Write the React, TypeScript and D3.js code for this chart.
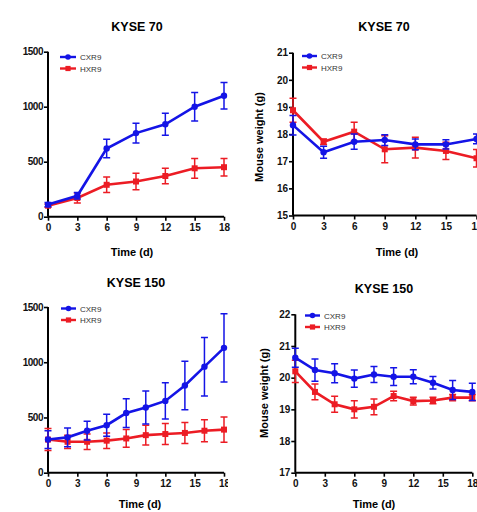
import * as d3 from "d3";
import { useEffect, useRef } from "react";

// tumour volume / mouse weight readings
const days70 = [0, 3, 6, 9, 12, 15, 18];
const days150 = [0, 2, 4, 6, 8, 10, 12, 14, 16, 18];
const timeTicks = [0, 3, 6, 9, 12, 15, 18];
const seriesNames = ["CXR9", "HXR9"];

const vol70CXR9 = [110, 190, 620, 760, 840, 1000, 1100];
const vol70CXR9Err = [20, 30, 85, 90, 100, 130, 120];
const vol70HXR9 = [100, 170, 290, 320, 370, 440, 450];
const vol70HXR9Err = [15, 45, 70, 75, 70, 90, 80];

const wt70CXR9 = [18.33, 17.33, 17.72, 17.78, 17.62, 17.62, 17.82];
const wt70CXR9Err = [0.36, 0.22, 0.28, 0.2, 0.2, 0.17, 0.18];
const wt70HXR9 = [18.88, 17.72, 18.09, 17.44, 17.5, 17.38, 17.11];
const wt70HXR9Err = [0.44, 0.1, 0.35, 0.5, 0.38, 0.32, 0.32];

const vol150CXR9 = [300, 320, 380, 430, 540, 590, 650, 790, 960, 1130];
const vol150CXR9Err = [80, 85, 85, 100, 130, 150, 165, 220, 265, 310];
const vol150HXR9 = [300, 280, 280, 290, 310, 340, 350, 360, 380, 390];
const vol150HXR9Err = [100, 60, 70, 70, 80, 90, 95, 95, 100, 115];

const wt150CXR9 = [20.63, 20.24, 20.14, 19.97, 20.1, 20.03, 20.03, 19.84, 19.61, 19.55];
const wt150CXR9Err = [0.3, 0.35, 0.3, 0.27, 0.25, 0.28, 0.22, 0.2, 0.3, 0.27];
const wt150HXR9 = [20.2, 19.55, 19.16, 19.0, 19.08, 19.42, 19.26, 19.28, 19.37, 19.37];
const wt150HXR9Err = [0.35, 0.25, 0.25, 0.27, 0.25, 0.15, 0.12, 0.1, 0.1, 0.1];

const BLUE = "#1414e6";
const RED = "#ec1c24";
const FONT = "'Liberation Sans Narrow', 'Liberation Sans', Arial, sans-serif";

type Panel = {
  id: string;
  title: string;
  titleX: number;
  titleY: number;
  xr: [number, number];
  yr: [number, number];
  yDomain: [number, number];
  yTicks: number[];
  days: number[];
  cx: number[];
  cxErr: number[];
  hx: number[];
  hxErr: number[];
  yLabel?: { x: number; y: number };
  xLabel: { x: number; y: number };
  legend: { x0: number; x1: number; y: number };
  clipRight?: number;
};

const panels: Panel[] = [
  {
    id: "p1", title: "KYSE 70", titleX: 137, titleY: 31,
    xr: [48, 224], yr: [216.7, 51.7], yDomain: [0, 1500], yTicks: [0, 500, 1000, 1500],
    days: days70, cx: vol70CXR9, cxErr: vol70CXR9Err, hx: vol70HXR9, hxErr: vol70HXR9Err,
    xLabel: { x: 132, y: 256 }, legend: { x0: 60, x1: 76, y: 57 },
  },
  {
    id: "p2", title: "KYSE 70", titleX: 384, titleY: 31,
    xr: [293, 476.5], yr: [215.5, 52.7], yDomain: [15, 21], yTicks: [15, 16, 17, 18, 19, 20, 21],
    days: days70, cx: wt70CXR9, cxErr: wt70CXR9Err, hx: wt70HXR9, hxErr: wt70HXR9Err,
    yLabel: { x: 263, y: 137 }, xLabel: { x: 397, y: 256 }, legend: { x0: 302, x1: 317, y: 56 },
  },
  {
    id: "p3", title: "KYSE 150", titleX: 136, titleY: 287,
    xr: [48, 224], yr: [472.7, 307], yDomain: [0, 1500], yTicks: [0, 500, 1000, 1500],
    days: days150, cx: vol150CXR9, cxErr: vol150CXR9Err, hx: vol150HXR9, hxErr: vol150HXR9Err,
    xLabel: { x: 140, y: 508 }, legend: { x0: 61, x1: 76, y: 308.5 }, clipRight: 228,
  },
  {
    id: "p4", title: "KYSE 150", titleX: 384, titleY: 293,
    xr: [295.3, 472.3], yr: [472.7, 314.3], yDomain: [17, 22], yTicks: [17, 18, 19, 20, 21, 22],
    days: days150, cx: wt150CXR9, cxErr: wt150CXR9Err, hx: wt150HXR9, hxErr: wt150HXR9Err,
    yLabel: { x: 268, y: 393 }, xLabel: { x: 374, y: 508 }, legend: { x0: 305, x1: 320, y: 315.5 },
  },
];

function drawPanel(root: d3.Selection<SVGSVGElement, unknown, null, undefined>, p: Panel) {
  const x = d3.scaleLinear().domain([0, 18]).range(p.xr);
  const y = d3.scaleLinear().domain(p.yDomain).range(p.yr);
  const fmt = d3.format("d");

  if (p.clipRight) {
    root.append("clipPath").attr("id", "clip-" + p.id)
      .append("rect").attr("x", 0).attr("y", 0).attr("width", p.clipRight).attr("height", 512);
  }
  const g = root.append("g").attr("id", p.id);
  if (p.clipRight) g.attr("clip-path", "url(#clip-" + p.id + ")");

  g.append("text")
    .attr("x", p.titleX).attr("y", p.titleY)
    .attr("text-anchor", "middle")
    .attr("font-family", FONT).attr("font-weight", "bold").attr("font-size", 12.5)
    .text(p.title);

  // axes
  const xAxis = g.append("g")
    .attr("transform", "translate(0," + p.yr[0] + ")")
    .call(d3.axisBottom(x).tickValues(timeTicks).tickFormat(fmt).tickSize(4).tickPadding(3));
  const yAxis = g.append("g")
    .attr("transform", "translate(" + p.xr[0] + ",0)")
    .call(d3.axisLeft(y).tickValues(p.yTicks).tickFormat(fmt).tickSize(4).tickPadding(1));
  [xAxis, yAxis].forEach((a) => {
    a.select(".domain").attr("stroke", "#000").attr("stroke-width", 2);
    a.selectAll(".tick line").attr("stroke", "#000").attr("stroke-width", 1.6);
    a.selectAll(".tick text")
      .attr("fill", "#111").attr("font-family", FONT)
      .attr("font-weight", "bold").attr("font-size", 10);
  });
  // tighten the axis path so no outer tick stubs stick out
  xAxis.select(".domain").attr("d", "M" + p.xr[0] + ",0H" + p.xr[1]);
  yAxis.select(".domain").attr("d", "M0," + p.yr[0] + "V" + p.yr[1]);
  if (p.yTicks[p.yTicks.length - 1] >= 1000) {
    yAxis.selectAll(".tick text").attr("letter-spacing", -0.5);
  }

  g.append("text")
    .attr("x", p.xLabel.x).attr("y", p.xLabel.y)
    .attr("text-anchor", "middle")
    .attr("font-family", FONT).attr("font-weight", "bold").attr("font-size", 11)
    .text("Time (d)");

  if (p.yLabel) {
    g.append("text")
      .attr("transform", "translate(" + p.yLabel.x + "," + p.yLabel.y + ") rotate(-90)")
      .attr("text-anchor", "middle")
      .attr("font-family", FONT).attr("font-weight", "bold").attr("font-size", 11)
      .text("Mouse weight (g)");
  }

  const series = [
    { name: seriesNames[0], vals: p.cx, errs: p.cxErr, color: BLUE, square: false },
    { name: seriesNames[1], vals: p.hx, errs: p.hxErr, color: RED, square: true },
  ];
  // draw red first so blue sits on top like in the reference
  [series[1], series[0]].forEach((s) => {
    const pts = p.days.map((d, i) => ({ d, v: s.vals[i], e: s.errs[i] }));
    const sg = g.append("g");
    const line = d3.line<{ d: number; v: number }>().x((q) => x(q.d)).y((q) => y(q.v));
    sg.append("path").datum(pts).attr("d", line)
      .attr("fill", "none").attr("stroke", s.color).attr("stroke-width", 2.6);
    sg.selectAll(".err").data(pts).join("path")
      .attr("d", (q) => {
        const xx = x(q.d), y0 = y(q.v - q.e), y1 = y(q.v + q.e);
        return "M" + xx + "," + y0 + "V" + y1 + "M" + (xx - 3.5) + "," + y0 + "H" + (xx + 3.5) +
          "M" + (xx - 3.5) + "," + y1 + "H" + (xx + 3.5);
      })
      .attr("fill", "none").attr("stroke", s.color).attr("stroke-width", 1.5);
    if (s.square) {
      sg.selectAll(".mk").data(pts).join("rect")
        .attr("x", (q) => x(q.d) - 3).attr("y", (q) => y(q.v) - 3)
        .attr("width", 6).attr("height", 6).attr("fill", s.color);
    } else {
      sg.selectAll(".mk").data(pts).join("circle")
        .attr("cx", (q) => x(q.d)).attr("cy", (q) => y(q.v)).attr("r", 3.2).attr("fill", s.color);
    }
  });

  // legend
  series.forEach((s, i) => {
    const ly = p.legend.y + i * 11.5;
    const mid = (p.legend.x0 + p.legend.x1) / 2;
    g.append("line")
      .attr("x1", p.legend.x0).attr("x2", p.legend.x1).attr("y1", ly).attr("y2", ly)
      .attr("stroke", s.color).attr("stroke-width", 2.4);
    if (s.square) {
      g.append("rect").attr("x", mid - 2.6).attr("y", ly - 2.6).attr("width", 5.2).attr("height", 5.2).attr("fill", s.color);
    } else {
      g.append("circle").attr("cx", mid).attr("cy", ly).attr("r", 2.8).attr("fill", s.color);
    }
    g.append("text")
      .attr("x", p.legend.x1 + 4).attr("y", ly + 3)
      .attr("font-family", FONT).attr("font-size", 8).attr("fill", "#333")
      .text(s.name);
  });
}

export default function App() {
  const ref = useRef<SVGSVGElement>(null);

  useEffect(() => {
    const svg = d3.select(ref.current as SVGSVGElement);
    svg.selectAll("*").remove();
    panels.forEach((p) => drawPanel(svg, p));
  }, []);

  return (
    <svg
      ref={ref}
      width={477}
      height={512}
      style={{ position: "absolute", left: 0, top: 0, background: "#fff" }}
    />
  );
}
